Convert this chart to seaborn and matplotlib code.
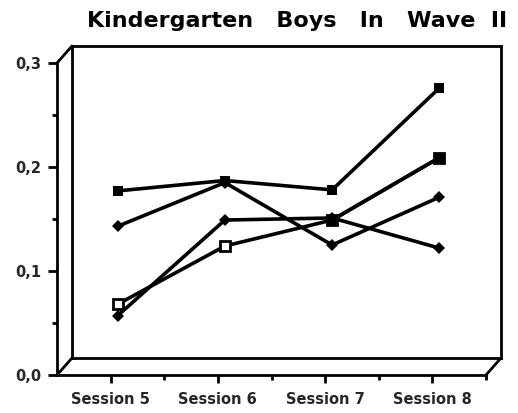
import matplotlib
matplotlib.use("Agg")
import matplotlib.pyplot as plt
from matplotlib.lines import Line2D
from matplotlib.transforms import ScaledTranslation
import seaborn as sns

# ---- data ----
sessions = ["Session 5", "Session 6", "Session 7", "Session 8"]
series_a = [0.177, 0.187, 0.178, 0.276]   # filled squares (top)
series_b = [0.068, 0.124, 0.149, 0.209]   # squares (open first two)
series_c = [0.143, 0.185, 0.125, 0.171]   # diamonds
series_d = [0.057, 0.149, 0.151, 0.122]   # diamonds
y_ticks = [0.0, 0.1, 0.2, 0.3]
y_tick_labels = ["0,0", "0,1", "0,2", "0,3"]
title = "Kindergarten   Boys   In   Wave  II"

sns.set_style("white")
plt.rcParams["font.family"] = ["DejaVu Sans"]

W, H = 518, 413
fig = plt.figure(figsize=(W / 100, H / 100), dpi=100)

def px_rect(x0, y0, x1, y1):
    return [x0 / W, (H - y1) / H, (x1 - x0) / W, (y1 - y0) / H]

# back panel of the 3-D box
back = fig.add_axes(px_rect(72, 46, 501, 358), zorder=0)
back.set_xticks([]); back.set_yticks([])
for s in back.spines.values():
    s.set_linewidth(2.0)
    s.set_color("black")

# front axes (tick axes)
ax = fig.add_axes(px_rect(57, 63, 486, 375), zorder=1)
ax.patch.set_alpha(0)

lw = 2.6
sns.lineplot(x=sessions, y=series_a, ax=ax, color="black", linewidth=lw,
             marker="s", markersize=7.5, markeredgewidth=0)
sns.lineplot(x=sessions, y=series_b, ax=ax, color="black", linewidth=lw,
             marker="s", markersize=7, markerfacecolor="white",
             markeredgecolor="black", markeredgewidth=2)
sns.lineplot(x=sessions[2:], y=series_b[2:], ax=ax, color="black", linewidth=lw,
             marker="s", markersize=7.5, markeredgewidth=0)
sns.lineplot(x=sessions, y=series_c, ax=ax, color="black", linewidth=lw,
             marker="D", markersize=6.5, markeredgewidth=0)
sns.lineplot(x=sessions, y=series_d, ax=ax, color="black", linewidth=lw,
             marker="D", markersize=6.5, markeredgewidth=0)

# data drawn slightly into the depth of the box
offset = ScaledTranslation(7 / 100, 0, fig.dpi_scale_trans)
for ln in ax.lines:
    ln.set_transform(ax.transData + offset)
    ln.set_clip_on(False)

ax.set_xlim(-0.5, 3.5)
ax.set_ylim(0, 0.3)
ax.set_xlabel("")
ax.set_ylabel("")
ax.set_yticks(y_ticks)
ax.set_yticklabels(y_tick_labels)
ax.set_yticks([0.05, 0.15, 0.25], minor=True)
ax.set_xticks([0.5, 1.5, 2.5, 3.5], minor=True)

for side in ["top", "right"]:
    ax.spines[side].set_visible(False)
for side in ["left", "bottom"]:
    ax.spines[side].set_linewidth(2.0)
    ax.spines[side].set_color("black")

ax.tick_params(axis="both", which="both", left=True, bottom=True,
               top=False, right=False)
ax.tick_params(axis="both", which="major", direction="out", width=2,
               length=6.5, color="black", labelsize=10.5, pad=5)
ax.tick_params(axis="both", which="minor", direction="out", width=2,
               length=3.5, color="black")
ax.tick_params(axis="x", which="major", length=6, pad=6)
for lab in ax.get_xticklabels() + ax.get_yticklabels():
    lab.set_fontweight("bold")

# depth connectors of the box
def pline(x0, y0, x1, y1):
    fig.add_artist(Line2D([x0 / W, x1 / W], [(H - y0) / H, (H - y1) / H],
                          transform=fig.transFigure, color="black",
                          linewidth=2.0, solid_capstyle="round"))

pline(57, 63, 72, 46)
pline(57, 375, 72, 358)
pline(486, 375, 501, 358)

fig.text(297 / W, (H - 21) / H, title, ha="center", va="center",
         fontsize=16, fontweight="bold", color="black")

fig.savefig("out.png", dpi=100)
